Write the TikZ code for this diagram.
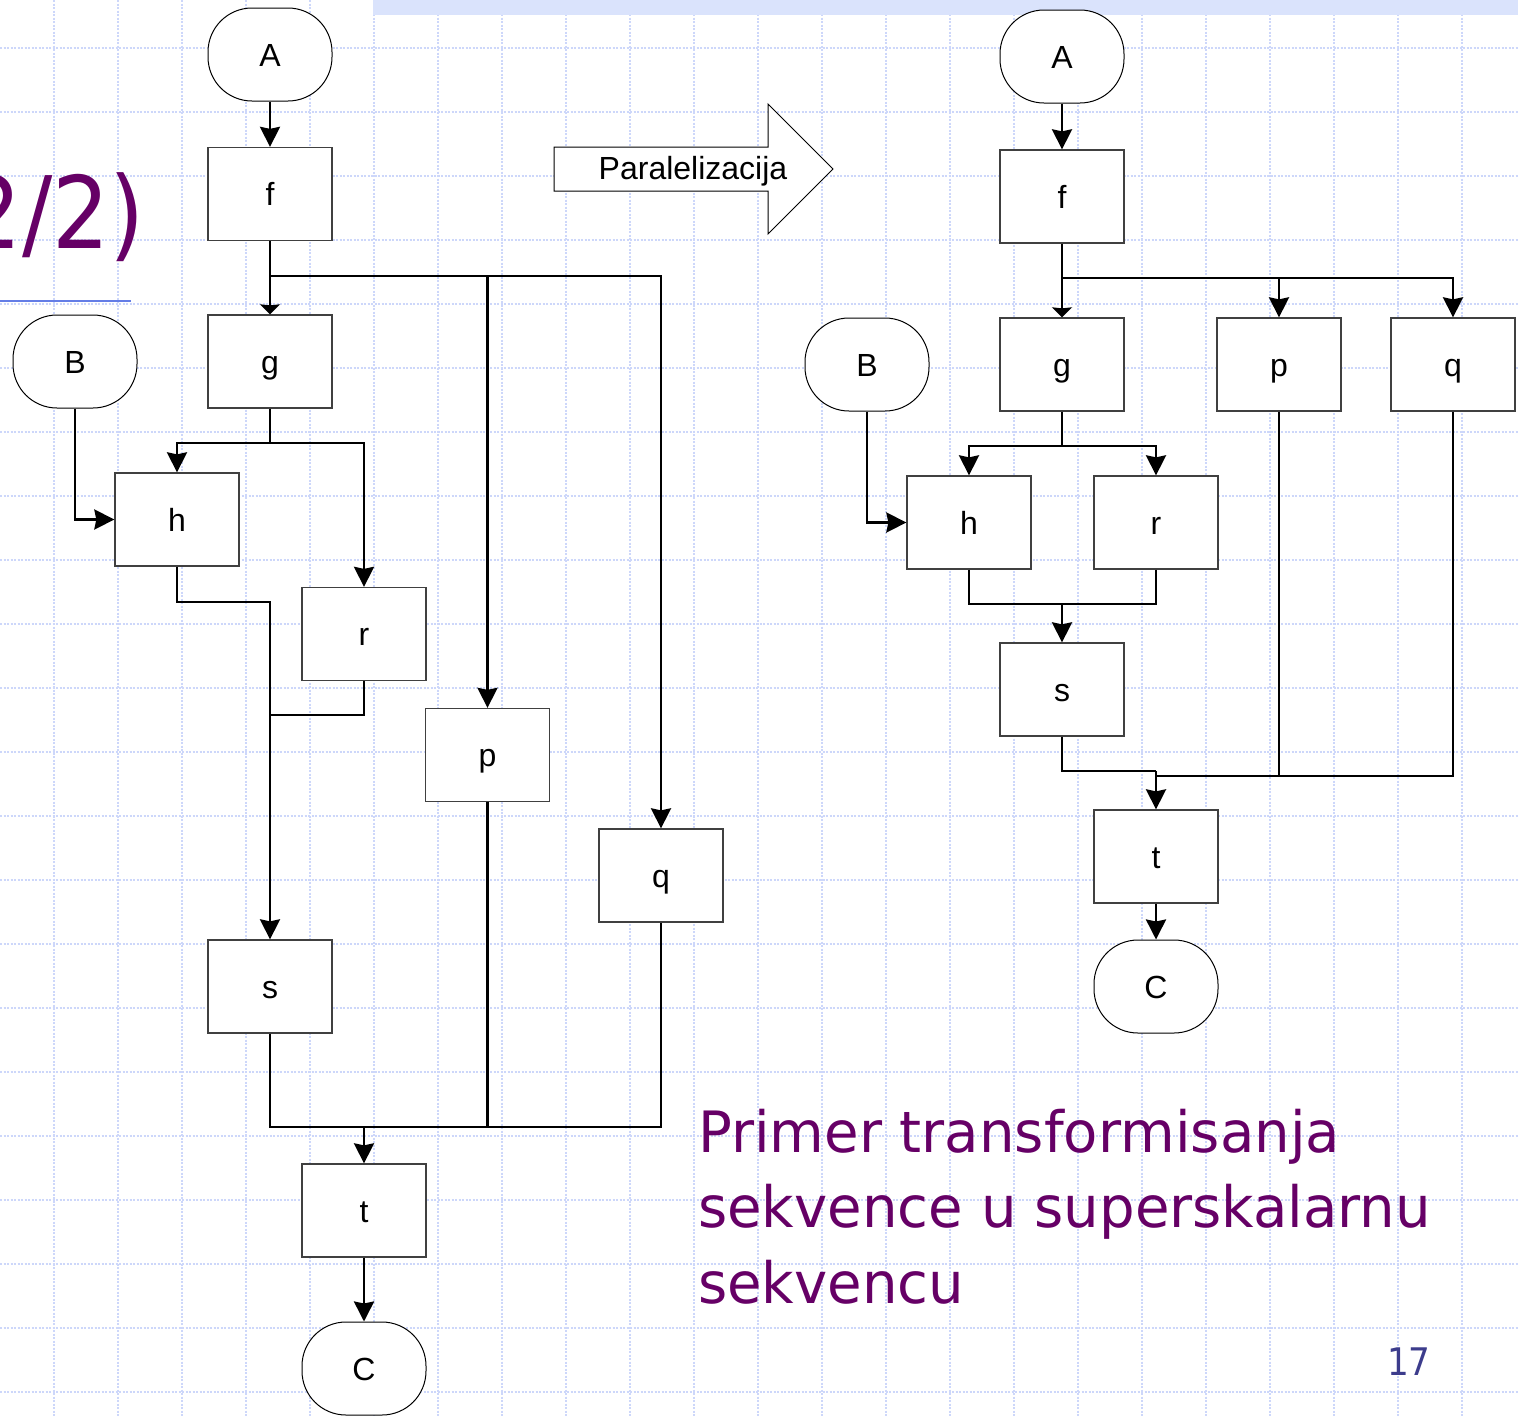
\documentclass[tikz,border=0pt]{standalone}
\usepackage{fontspec}
\setmainfont{Liberation Sans}
\newfontfamily\tahoma[FakeStretch=0.9]{DejaVu Sans}
\newfontfamily\captfont[FakeStretch=0.985]{DejaVu Sans}
\usetikzlibrary{arrows.meta}
\definecolor{gridc}{RGB}{205,215,250}
\definecolor{bandc}{RGB}{218,227,252}
\definecolor{purp}{RGB}{102,0,102}
\definecolor{numc}{RGB}{60,60,140}
\definecolor{ulc}{RGB}{100,125,230}
\begin{document}
\begin{tikzpicture}[x=1pt,y=-1pt,
 box/.style={draw=black!75, line width=1.3pt, fill=white, minimum width=124pt, minimum height=93pt,
   inner sep=0pt, text height=23pt, text depth=0pt, font=\fontsize{32}{38}\selectfont},
 term/.style={box, draw=black, line width=1pt, rounded corners=44pt},
 conn/.style={line width=2.8pt, -{Stealth[length=20pt,width=20pt,inset=2pt]}},
 shortconn/.style={line width=2.8pt, -{Stealth[length=10pt,width=20pt,inset=1pt]}},
 wire/.style={line width=2.8pt},
 gridline/.style={gridc, line width=2.2pt, dash pattern=on 2pt off 1.5pt},
]
\useasboundingbox (0,0) rectangle (1518,1417);
\begin{scope}
\clip (0,0) rectangle (1518,1417);
\fill[white] (0,0) rectangle (1518,1417);
% grid
\foreach \x in {54,118,...,1518} \draw[gridline] (\x,0) -- (\x,1417);
\foreach \y in {48,112,...,1417} \draw[gridline] (0,\y) -- (1518,\y);
\fill[bandc] (373,0) rectangle (1518,15);
% title fragment
\node[anchor=base east, text=purp, font=\tahoma\fontsize{100}{100}\selectfont, inner sep=0pt] (ttl) at (145,248) {2/2)};
\draw[ulc, line width=1.5pt] (0,301) -- (131,301);

% ---------- left diagram ----------
\node[term] (LA) at (270,54.5) {A};
\node[box]  (Lf) at (270,194) {f};
\node[box]  (Lg) at (270,361.5) {g};
\node[term] (LB) at (75,361.5) {B};
\node[box]  (Lh) at (177,519.5) {h};
\node[box]  (Lr) at (364,634) {r};
\node[box]  (Lp) at (487.5,755) {p};
\node[box]  (Lq) at (661,875.5) {q};
\node[box]  (Ls) at (270,986.5) {s};
\node[box]  (Lt) at (364,1210.5) {t};
\node[term] (LC) at (364,1368.5) {C};
\coordinate (Lb1) at (270,276);
\coordinate (Lb2) at (270,443);
\coordinate (Lm1) at (270,602);
\coordinate (Lm2) at (270,715);
\coordinate (Lm3) at (364,1127);

\draw[conn] (LA) -- (Lf);
\draw[shortconn] (Lf) -- (Lg);
\draw[conn] (Lb1) -| (Lp.north);
\draw[conn] (Lb1) -| (Lq.north);
\draw[conn] (LB.south) |- (Lh.west);
\draw[wire] (Lg.south) -- (Lb2);
\draw[conn] (Lb2) -| (Lh.north);
\draw[conn] (Lb2) -| (Lr.north);
\draw[conn] (Lh.south) |- (Lm1) -- (Ls.north);
\draw[wire] (Lr.south) |- (Lm2);
\draw[wire] (Ls.south) |- (Lm3);
\draw[wire] (Lp.south) |- (Lm3);
\draw[wire] (Lq.south) |- (Lm3);
\draw[conn] (Lm3) -- (Lt.north);
\draw[conn] (Lt) -- (LC);

% ---------- transformation arrow ----------
\draw[black, line width=1pt, fill=white] (554,147) -- (768,147) -- (768,104) -- (833,169)
  -- (768,234) -- (768,191) -- (554,191) -- cycle;
\node[inner sep=0pt, text height=23pt, text depth=0pt, font=\fontsize{32}{38}\selectfont] (par) at (693,168) {Paralelizacija};

% ---------- right diagram ----------
\node[term] (RA) at (1062,56.5) {A};
\node[box]  (Rf) at (1062,196.5) {f};
\node[box]  (Rg) at (1062,364.5) {g};
\node[box]  (Rp) at (1279,364.5) {p};
\node[box]  (Rq) at (1453,364.5) {q};
\node[term] (RB) at (867,364.5) {B};
\node[box]  (Rh) at (969,522.5) {h};
\node[box]  (Rr) at (1156,522.5) {r};
\node[box]  (Rs) at (1062,689.5) {s};
\node[box]  (Rt) at (1156,856.5) {t};
\node[term] (RC) at (1156,986.5) {C};
\coordinate (Rb1) at (1062,278);
\coordinate (Rb2) at (1062,446);
\coordinate (Rm1) at (1062,604);
\coordinate (Rm2) at (1156,771);
\coordinate (Rm3) at (1156,776);

\draw[conn] (RA) -- (Rf);
\draw[shortconn] (Rf) -- (Rg);
\draw[conn] (Rb1) -| (Rp.north);
\draw[conn] (Rb1) -| (Rq.north);
\draw[conn] (RB.south) |- (Rh.west);
\draw[wire] (Rg.south) -- (Rb2);
\draw[conn] (Rb2) -| (Rh.north);
\draw[conn] (Rb2) -| (Rr.north);
\draw[wire] (Rh.south) |- (Rm1);
\draw[wire] (Rr.south) |- (Rm1);
\draw[conn] (Rm1) -- (Rs.north);
\draw[wire] (Rs.south) |- (Rm2);
\draw[wire] (Rp.south) |- (Rm3);
\draw[wire] (Rq.south) |- (Rm3);
\draw[conn] (Rm2) -- (Rt.north);
\draw[conn] (Rt) -- (RC);

% ---------- caption ----------
\begin{scope}[every node/.style={anchor=base west, text=purp, inner sep=0pt, font=\captfont\fontsize{57}{57}\selectfont}]
\node (cap1) at (698,1152) {Primer transformisanja};
\node (cap2) at (698,1227) {sekvence u superskalarnu};
\node (cap3) at (698,1303) {sekvencu};
\end{scope}
\node[anchor=base west, text=numc, inner sep=0pt, font=\tahoma\fontsize{38}{38}\selectfont] (pg) at (1387,1375) {17};
\end{scope}
\end{tikzpicture}
\end{document}
